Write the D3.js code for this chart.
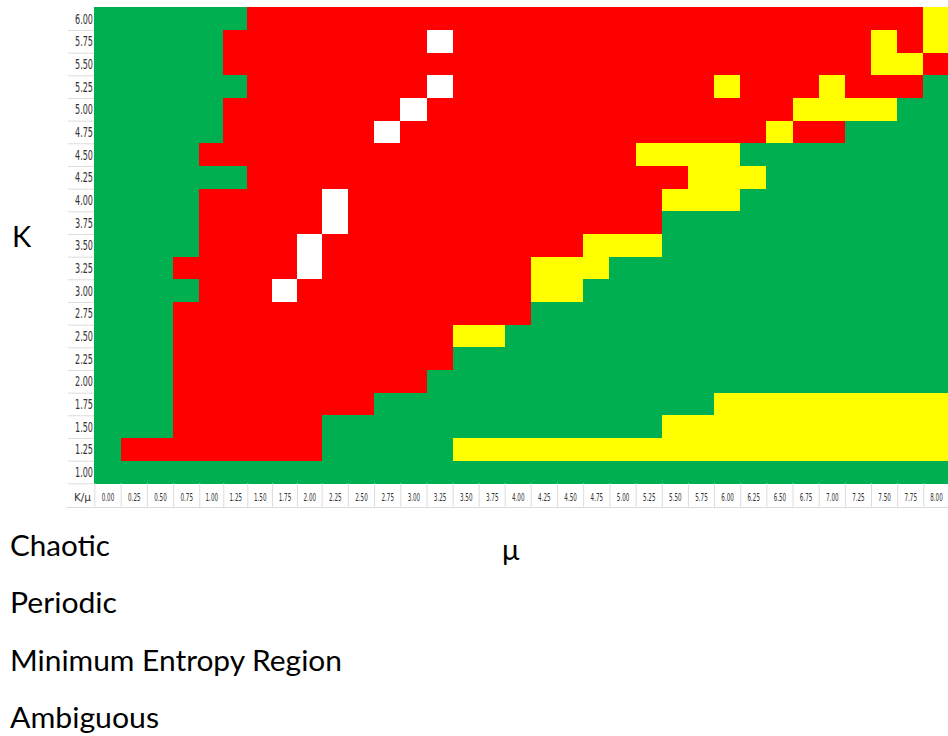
<!DOCTYPE html>
<html>
<head>
<meta charset="utf-8">
<script src="https://cdn.jsdelivr.net/npm/d3@7/dist/d3.min.js"></script>
<style>
  body { margin: 0; background: #ffffff; }
  svg { display: block; }
</style>
</head>
<body>
<svg id="chart" width="948" height="736"></svg>
<script>
// Control parameter μ (columns) and coupling K (rows)
const muLabels = ["0.00","0.25","0.50","0.75","1.00","1.25","1.50","1.75","2.00","2.25","2.50",
                  "2.75","3.00","3.25","3.50","3.75","4.00","4.25","4.50","4.75","5.00","5.25",
                  "5.50","5.75","6.00","6.25","6.50","6.75","7.00","7.25","7.50","7.75","8.00"];
const kLabels = ["1.00","1.25","1.50","1.75","2.00","2.25","2.50","2.75","3.00","3.25","3.50",
                 "3.75","4.00","4.25","4.50","4.75","5.00","5.25","5.50","5.75","6.00"];

// Regime categories
const regimeNames  = ["Chaotic", "Periodic", "Minimum Entropy Region", "Ambiguous"];
const regimeCodes  = ["R", "G", "Y", "W"];
const regimeColors = ["#ff0000", "#00b050", "#ffff00", "#ffffff"];

// Regime along each K row, as runs of [code, number of μ columns], left to right
const regimeRuns = [
  ["6.00", [["G",6],["R",26],["Y",1]]],
  ["5.75", [["G",5],["R",8],["W",1],["R",16],["Y",1],["R",1],["Y",1]]],
  ["5.50", [["G",5],["R",25],["Y",2],["R",1]]],
  ["5.25", [["G",6],["R",7],["W",1],["R",10],["Y",1],["R",3],["Y",1],["R",3],["G",1]]],
  ["5.00", [["G",5],["R",7],["W",1],["R",14],["Y",4],["G",2]]],
  ["4.75", [["G",5],["R",6],["W",1],["R",14],["Y",1],["R",2],["G",4]]],
  ["4.50", [["G",4],["R",17],["Y",4],["G",8]]],
  ["4.25", [["G",6],["R",17],["Y",3],["G",7]]],
  ["4.00", [["G",4],["R",5],["W",1],["R",12],["Y",3],["G",8]]],
  ["3.75", [["G",4],["R",5],["W",1],["R",12],["G",11]]],
  ["3.50", [["G",4],["R",4],["W",1],["R",10],["Y",3],["G",11]]],
  ["3.25", [["G",3],["R",5],["W",1],["R",8],["Y",3],["G",13]]],
  ["3.00", [["G",4],["R",3],["W",1],["R",9],["Y",2],["G",14]]],
  ["2.75", [["G",3],["R",14],["G",16]]],
  ["2.50", [["G",3],["R",11],["Y",2],["G",17]]],
  ["2.25", [["G",3],["R",11],["G",19]]],
  ["2.00", [["G",3],["R",10],["G",20]]],
  ["1.75", [["G",3],["R",8],["G",13],["Y",9]]],
  ["1.50", [["G",3],["R",6],["G",13],["Y",11]]],
  ["1.25", [["G",1],["R",8],["G",5],["Y",19]]],
  ["1.00", [["G",33]]]
];

// Expand the runs into one cell per (μ, K)
const cells = [];
regimeRuns.forEach(([k, runs]) => {
  let col = 0;
  runs.forEach(([code, n]) => {
    for (let j = 0; j < n; j++) {
      cells.push({ k: k, col: col, mu: muLabels[col], code: code });
      col++;
    }
  });
});

const svg = d3.select("#chart");

// Column edges: the sheet's columns are not all the same width,
// so the column index is mapped piecewise onto the page.
const colEdge = d3.scaleLinear()
  .domain([0, 1, 4, 6, 9, 14, 17, 21, 24, 28, 32, 33])
  .range([94.3, 120.7, 199.3, 247.3, 321.7, 452.7, 530.7, 635.7, 714, 818.7, 923.3, 948.6]);
const y = d3.scaleBand().domain(kLabels.slice().reverse()).range([7.3, 483.3]).padding(0);
const color = d3.scaleOrdinal().domain(regimeCodes).range(regimeColors);

const labelFont = "'Liberation Sans Narrow', 'DejaVu Sans Condensed', 'Liberation Sans', sans-serif";
const titleFont = "Lato, 'Open Sans', 'Liberation Sans', sans-serif";
const gridLine = "#dcdcdc";

// Heat-map cells
svg.append("g")
  .attr("shape-rendering", "crispEdges")
  .selectAll("rect")
  .data(cells)
  .join("rect")
  .attr("x", d => colEdge(d.col))
  .attr("y", d => y(d.k))
  .attr("width", d => colEdge(d.col + 1) - colEdge(d.col) + 0.6)
  .attr("height", y.bandwidth() + 0.6)
  .attr("fill", d => color(d.code));

// K row labels with light separators
const yAxis = svg.append("g")
  .attr("transform", "translate(93,0)")
  .call(d3.axisLeft(y).tickSize(0).tickPadding(0));
yAxis.select(".domain").remove();
yAxis.selectAll("text")
  .attr("font-family", labelFont)
  .attr("font-size", 14)
  .attr("fill", "#333")
  .attr("dy", "0.36em")
  .attr("textLength", 18)
  .attr("lengthAdjust", "spacingAndGlyphs");

svg.append("g")
  .selectAll("line")
  .data(kLabels)
  .join("line")
  .attr("x1", 68).attr("x2", 94)
  .attr("y1", d => y(d) + y.bandwidth() + 0.5)
  .attr("y2", d => y(d) + y.bandwidth() + 0.5)
  .attr("stroke", gridLine).attr("stroke-width", 1);

// μ column labels row
const rowTop = 483.3, rowBottom = 507;
const colCenters = muLabels.map((m, i) => i + 0.5);
const xAxis = svg.append("g")
  .attr("transform", `translate(0,${rowTop})`)
  .call(d3.axisBottom(colEdge)
    .tickValues(colCenters)
    .tickFormat(c => muLabels[Math.floor(c)])
    .tickSize(0).tickPadding(0));
xAxis.select(".domain").remove();
xAxis.selectAll("text")
  .attr("font-family", labelFont)
  .attr("font-size", 11)
  .attr("fill", "#333")
  .attr("y", 17.4)
  .attr("dy", 0)
  .attr("textLength", 12.5)
  .attr("lengthAdjust", "spacingAndGlyphs");

svg.append("g")
  .selectAll("line")
  .data(muLabels)
  .join("line")
  .attr("x1", (d, i) => colEdge(i) + 0.5).attr("x2", (d, i) => colEdge(i) + 0.5)
  .attr("y1", rowTop).attr("y2", rowBottom)
  .attr("stroke", gridLine).attr("stroke-width", 1);

svg.append("line")
  .attr("x1", 66).attr("x2", 948)
  .attr("y1", rowBottom + 0.5).attr("y2", rowBottom + 0.5)
  .attr("stroke", gridLine).attr("stroke-width", 1);

svg.append("text")
  .attr("x", 82.5).attr("y", rowTop + 17.4)
  .attr("text-anchor", "middle")
  .attr("font-family", labelFont)
  .attr("font-size", 11)
  .attr("fill", "#333")
  .attr("textLength", 17)
  .attr("lengthAdjust", "spacingAndGlyphs")
  .text("K/μ");

// Axis titles
svg.append("text")
  .attr("x", 12).attr("y", 246.7)
  .attr("font-family", titleFont)
  .attr("font-size", 29)
  .attr("fill", "#000")
  .text("K");

svg.append("text")
  .attr("x", 502).attr("y", 560)
  .attr("font-family", titleFont)
  .attr("font-size", 29)
  .attr("fill", "#000")
  .text("μ");

// Regime names
const legendBaselines = [556, 613, 670.5, 728];
const legendWidths = [100, 107, 332, 149];
svg.append("g")
  .selectAll("text")
  .data(regimeNames)
  .join("text")
  .attr("x", 10)
  .attr("y", (d, i) => legendBaselines[i])
  .attr("font-family", titleFont)
  .attr("font-size", 29)
  .attr("fill", "#000")
  .attr("textLength", (d, i) => legendWidths[i])
  .attr("lengthAdjust", "spacingAndGlyphs")
  .text(d => d);
</script>
</body>
</html>
